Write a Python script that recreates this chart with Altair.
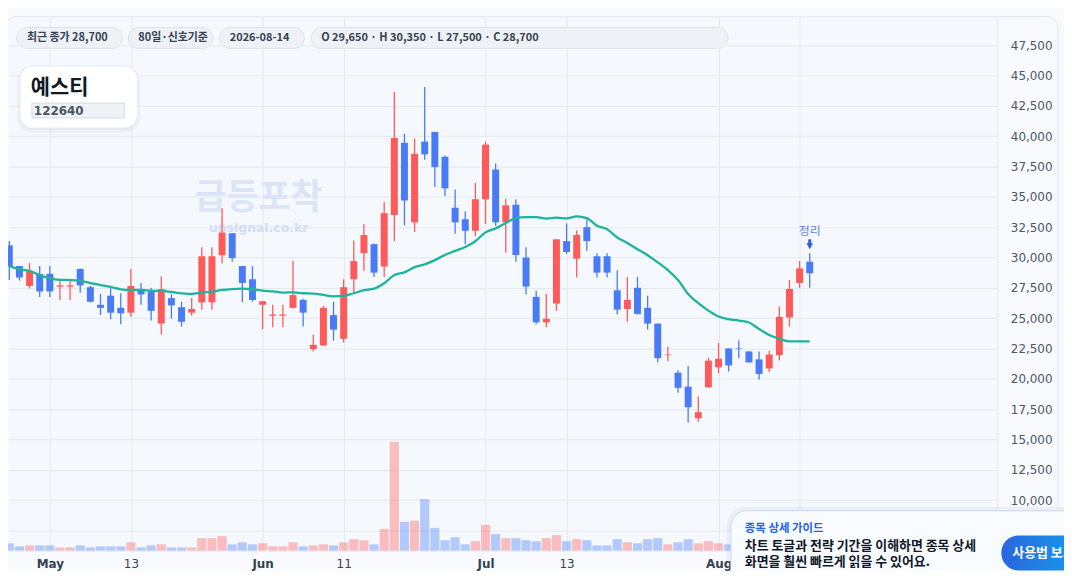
import altair as alt
import pandas as pd

# ---------------- data ----------------
opens = [31000, 29300, 27650, 28650, 28650, 27600, 27600, 29050, 27550, 26100,
         26850, 25850, 25450, 27250, 27200, 24550, 26650, 25900, 25450, 26300,
         26300, 30200, 32000, 29300, 28200, 26100, 25200, 25200, 25850, 26500,
         22450, 22750, 25250, 23300, 28200, 30350, 31100, 29250, 33500, 39450,
         32900, 39550, 40350, 38300, 34100, 33150, 32200, 34800, 37250, 32900,
         34350, 30000, 26750, 24650, 26200, 31350, 29900, 32500, 30100, 30100,
         27300, 25750, 27500, 25850, 24550, 21950, 20500, 19350, 16750, 19300,
         20950, 22500, 22500, 22250, 21600, 20850, 21950, 25050, 27900, 29650]
highs = [31350, 29300, 29550, 29300, 29300, 28150, 28250, 29100, 27650, 27000,
         27650, 27050, 29050, 27900, 27500, 28450, 27000, 26350, 26650, 30850,
         30850, 34050, 32000, 29300, 29300, 26400, 26100, 26100, 29700, 26600,
         23650, 26000, 26350, 28200, 31400, 32750, 31150, 34600, 43650, 40200,
         39800, 44050, 40350, 38400, 35600, 33800, 36150, 39550, 37750, 34850,
         34800, 30850, 27250, 27000, 31500, 32800, 32250, 33150, 30350, 30350,
         28950, 28400, 28400, 26850, 24550, 22650, 20700, 21050, 18550, 21750,
         22950, 22500, 23150, 22300, 22250, 22300, 25950, 28150, 29700, 30350]
lows = [28150, 28100, 27450, 26750, 26750, 26500, 26500, 27100, 26300, 25250,
        24900, 24500, 25100, 26100, 24800, 23650, 24950, 24300, 25200, 25700,
        25700, 29500, 29650, 26300, 26350, 24100, 24250, 24250, 25800, 24300,
        22250, 22700, 23150, 23000, 27050, 28900, 28400, 28400, 31350, 32650,
        32100, 38050, 35800, 35050, 31950, 31100, 31750, 32750, 32600, 30400,
        29650, 26950, 24500, 24250, 25600, 30300, 28350, 30550, 28350, 28350,
        25300, 24700, 25300, 24050, 21350, 21450, 18850, 16400, 16450, 19250,
        20450, 20600, 21700, 21350, 19950, 20550, 21500, 24300, 27500, 27500]
closes = [29250, 28350, 28900, 27200, 27200, 27700, 27700, 27700, 26350, 25850,
          25450, 25400, 27650, 26950, 25600, 27400, 26050, 24700, 25750, 30100,
          30100, 32050, 29950, 27900, 26500, 26400, 25300, 25300, 26900, 25450,
          22800, 25850, 24050, 27550, 29700, 31850, 28750, 33650, 39850, 34700,
          38550, 38500, 37450, 35700, 32900, 32200, 34800, 39300, 32900, 34300,
          30200, 27600, 24650, 24950, 31500, 30450, 31850, 31350, 28750, 28750,
          25700, 26500, 25350, 24550, 21700, 22000, 19250, 17650, 17250, 21500,
          21650, 21100, 22450, 21350, 20400, 22000, 25100, 27400, 29100, 28700]
ma20 = [29310, 29020, 28900, 28550, 28280, 28160, 28140, 28080, 27890, 27730,
        27570, 27380, 27320, 27320, 27260, 27240, 27160, 27050, 26990, 27110,
        27180, 27320, 27400, 27430, 27380, 27260, 27210, 27100, 27130, 27050,
        27020, 26910, 26800, 26830, 27050, 27300, 27430, 27870, 28550, 28770,
        29200, 29430, 29780, 30210, 30540, 30870, 31340, 32070, 32400, 32840,
        33250, 33330, 33330, 33200, 33280, 33220, 33390, 33250, 32620, 32320,
        31650, 31200, 30680, 30190, 29590, 28960, 28140, 26990, 26230, 25620,
        25130, 24920, 24800, 24640, 24100, 23610, 23300, 23080, 23080, 23080]
volume = [210, 120, 150, 150, 150, 90, 90, 150, 90, 120,
          120, 120, 240, 90, 150, 180, 90, 90, 90, 360,
          360, 420, 180, 240, 180, 210, 120, 120, 240, 120,
          150, 180, 150, 240, 330, 300, 180, 630, 3180, 840,
          870, 1500, 660, 300, 390, 180, 270, 750, 480, 360,
          360, 300, 270, 360, 450, 270, 330, 300, 150, 150,
          330, 240, 210, 330, 360, 180, 240, 330, 210, 270,
          210, 180, 200, 240, 220, 260, 520, 480, 400, 340]

tick_idx = [4, 12, 25, 33, 47, 55, 70, 78]
tick_labels = ["May", "13", "Jun", "11", "Jul", "13", "Aug", ""]   # last one sits under the guide popup
month_idx = [4, 25, 47, 70]
price_ticks = [7500, 10000, 12500, 15000, 17500, 20000, 22500, 25000, 27500,
               30000, 32500, 35000, 37500, 40000, 42500, 45000, 47500]

stock_name = "예스티"
stock_code = "122640"
pills = ["최근 종가 28,700", "80일·신호기준", "2026-08-14",
         "O 29,650 · H 30,350 · L 27,500 · C 28,700"]
signal_label = "정리"
signal_idx = 79

RED = "#ff5a5a"
BLUE = "#4a7bf6"
TEAL = "#1db39c"
GRID = "#e5e9ef"

df = pd.DataFrame({
    "i": list(range(len(opens))),
    "open": opens, "high": highs, "low": lows, "close": closes,
    "ma": ma20, "vol": volume,
})
df["dir"] = ["up" if c >= o else "down" for o, c in zip(opens, closes)]

# ---------------- encodings ----------------
label_expr = " : ".join(
    f"datum.value == {v} ? '{t}'" for v, t in zip(tick_idx, tick_labels)
) + " : ''"
weight_expr = "indexof([" + ",".join(str(m) for m in month_idx) + "], datum.value) >= 0 ? 'bold' : 'normal'"

x_enc = alt.X(
    "i:Q",
    scale=alt.Scale(domain=[-0.128, 97.52], nice=False, zero=False, padding=0),
    axis=alt.Axis(values=tick_idx, labelExpr=label_expr, grid=True, gridColor=GRID,
                  gridWidth=1, ticks=False, domain=True, domainColor="#e1e6ee",
                  labelFont="DejaVu Sans", labelFontSize=12, labelColor="#334155",
                  labelFontWeight=alt.expr(weight_expr), labelPadding=8,
                  labelFlush=False, labelOverlap=False, title=None),
)
price_scale = alt.Scale(domain=[5843, 49861], nice=False, zero=False, padding=0)
price_axis = alt.Axis(orient="right", values=price_ticks,
                      labelExpr="datum.value < 10000 ? '' : format(datum.value, ',d')",
                      grid=True, gridColor=GRID, gridWidth=1, ticks=False, domain=True,
                      domainColor="#e1e6ee", labelFont="DejaVu Sans", labelFontSize=12,
                      labelColor="#4b5563", labelPadding=13, labelFlush=False,
                      labelOverlap=False, title=None)
color_enc = alt.Color("dir:N", scale=alt.Scale(domain=["up", "down"], range=[RED, BLUE]),
                      legend=None)

base = alt.Chart(df)

vol_layer = base.mark_bar(width=9.2, opacity=0.38).encode(
    x=x_enc,
    y=alt.Y("vol:Q", scale=alt.Scale(domain=[0, 15600], nice=False, padding=0), axis=None),
    color=color_enc,
)

wick = base.mark_rule(strokeWidth=1.3).encode(
    x=x_enc,
    y=alt.Y("low:Q", scale=price_scale, axis=price_axis),
    y2="high:Q",
    color=color_enc,
)
body = base.mark_bar(width=7).encode(
    x=x_enc,
    y=alt.Y("open:Q", scale=price_scale, axis=price_axis),
    y2="close:Q",
    color=color_enc,
)
ma_line = base.mark_line(color=TEAL, strokeWidth=2.3, interpolate="monotone").encode(
    x=x_enc,
    y=alt.Y("ma:Q", scale=price_scale, axis=price_axis),
)

one = alt.Data(values=[{"i": signal_idx}])

# watermark
wm1 = alt.Chart(one).mark_text(text="급등포착", font="Noto Sans CJK KR", fontSize=35,
                               fontWeight="bold", color="#dce5f7", align="center",
                               baseline="middle").encode(x=alt.value(252), y=alt.value(183))
wm2 = alt.Chart(one).mark_text(text="upsignal.co.kr", font="DejaVu Sans", fontSize=12.5,
                               fontWeight="bold", color="#d3def5", align="center",
                               baseline="middle").encode(x=alt.value(252), y=alt.value(213))

# signal marker
sig_text = alt.Chart(one).mark_text(text=signal_label, font="Noto Sans CJK KR", fontSize=12,
                                    color="#5f86de", align="center", baseline="middle").encode(
    x=x_enc, y=alt.value(216))
sig_shaft = alt.Chart(one).mark_rule(color="#2c5fd8", strokeWidth=3).encode(
    x=x_enc, y=alt.value(224), y2=alt.value(229))
sig_head = alt.Chart(one).mark_point(shape="triangle-down", filled=True, size=45,
                                     color="#2c5fd8", opacity=1).encode(
    x=x_enc, y=alt.value(231))

# card top border
card = alt.Chart(one).mark_rect(cornerRadius=12, fillOpacity=0, stroke="#e2e8f0",
                                strokeWidth=1).encode(
    x=alt.value(-3), x2=alt.value(1056), y=alt.value(0), y2=alt.value(600))

# pills
pill_x = [(9, 115), (121, 206), (213, 298), (305, 724)]
pill_layers = []
for (x0, x1), txt in zip(pill_x, pills):
    pill_layers.append(alt.Chart(one).mark_rect(cornerRadius=10.5, fill="#eef2f7",
                                                stroke="#dce2ea", strokeWidth=1).encode(
        x=alt.value(x0), x2=alt.value(x1), y=alt.value(11), y2=alt.value(32)))
    pill_layers.append(alt.Chart(one).mark_text(text=txt, font="Noto Sans CJK KR", fontSize=11,
                                                fontWeight="bold", color="#374151", align="left",
                                                baseline="middle").encode(
        x=alt.value(x0 + 10), y=alt.value(21.5)))

# name card
shadow1 = alt.Chart(one).mark_rect(cornerRadius=16, fill="#64748b", opacity=0.05).encode(
    x=alt.value(9), x2=alt.value(133), y=alt.value(49), y2=alt.value(117))
shadow2 = alt.Chart(one).mark_rect(cornerRadius=14, fill="#64748b", opacity=0.06).encode(
    x=alt.value(11), x2=alt.value(131), y=alt.value(50), y2=alt.value(114))
name_card = alt.Chart(one).mark_rect(cornerRadius=13, fill="#ffffff", stroke="#edf0f4").encode(
    x=alt.value(12), x2=alt.value(130), y=alt.value(50), y2=alt.value(112))
name_text = alt.Chart(one).mark_text(text=stock_name, font="Noto Sans CJK KR", fontSize=21,
                                     fontWeight="bold", color="#111827", align="left",
                                     baseline="middle").encode(x=alt.value(23), y=alt.value(71.5))
code_box = alt.Chart(one).mark_rect(fill="#eef2f7", stroke="#d5dbe4", strokeWidth=1).encode(
    x=alt.value(24), x2=alt.value(117), y=alt.value(87), y2=alt.value(102))
code_text = alt.Chart(one).mark_text(text=stock_code, font="DejaVu Sans", fontSize=12,
                                     fontWeight="bold", color="#4b5563", align="left",
                                     baseline="middle").encode(x=alt.value(26), y=alt.value(95))

# guide popup
pop_shadow = alt.Chart(one).mark_rect(cornerRadius=19, fill="#64748b", opacity=0.07).encode(
    x=alt.value(723), x2=alt.value(1110), y=alt.value(493), y2=alt.value(620))
popup = alt.Chart(one).mark_rect(cornerRadius=16, fill="#f8fbff", stroke="#c9d8f4",
                                 strokeWidth=1).encode(
    x=alt.value(727), x2=alt.value(1110), y=alt.value(497), y2=alt.value(620))
pop_title = alt.Chart(one).mark_text(text="종목 상세 가이드", font="Noto Sans CJK KR",
                                     fontSize=11.5, fontWeight="bold", color="#2563eb",
                                     align="left", baseline="middle").encode(
    x=alt.value(741), y=alt.value(515))
pop_l1 = alt.Chart(one).mark_text(text="차트 토글과 전략 기간을 이해하면 종목 상세",
                                  font="Noto Sans CJK KR", fontSize=13, fontWeight="bold",
                                  color="#111827", align="left", baseline="middle").encode(
    x=alt.value(741), y=alt.value(532))
pop_l2 = alt.Chart(one).mark_text(text="화면을 훨씬 빠르게 읽을 수 있어요.",
                                  font="Noto Sans CJK KR", fontSize=13, fontWeight="bold",
                                  color="#111827", align="left", baseline="middle").encode(
    x=alt.value(741), y=alt.value(549))
btn = alt.Chart(one).mark_rect(
    cornerRadius=17,
    color=alt.Gradient(gradient="linear",
                       stops=[alt.GradientStop(color="#2a66df", offset=0),
                              alt.GradientStop(color="#12a4ec", offset=1)],
                       x1=0, x2=1, y1=0, y2=0)).encode(
    x=alt.value(999), x2=alt.value(1090), y=alt.value(522), y2=alt.value(557))
btn_text = alt.Chart(one).mark_text(text="사용법 보기", font="Noto Sans CJK KR", fontSize=13,
                                    fontWeight="bold", color="#ffffff", align="left",
                                    baseline="middle").encode(x=alt.value(1010), y=alt.value(540))

price_layers = alt.layer(wick, body, ma_line)

chart = alt.layer(
    wm1, wm2, vol_layer, price_layers,
    sig_text, sig_shaft, sig_head, card,
    *pill_layers,
    shadow1, shadow2, name_card, name_text, code_box, code_text,
    pop_shadow, popup, pop_title, pop_l1, pop_l2, btn, btn_text,
).resolve_scale(y="independent").properties(
    width=995, height=537,
    padding={"left": 0, "top": 7, "right": 67, "bottom": 19},
    autosize=alt.AutoSizeParams(type="none"),
    background="#f8fafd",
).configure_view(fill="#f5f8fd", stroke="transparent")

chart.save("out.html", embed_options={"renderer": "svg", "actions": False})
